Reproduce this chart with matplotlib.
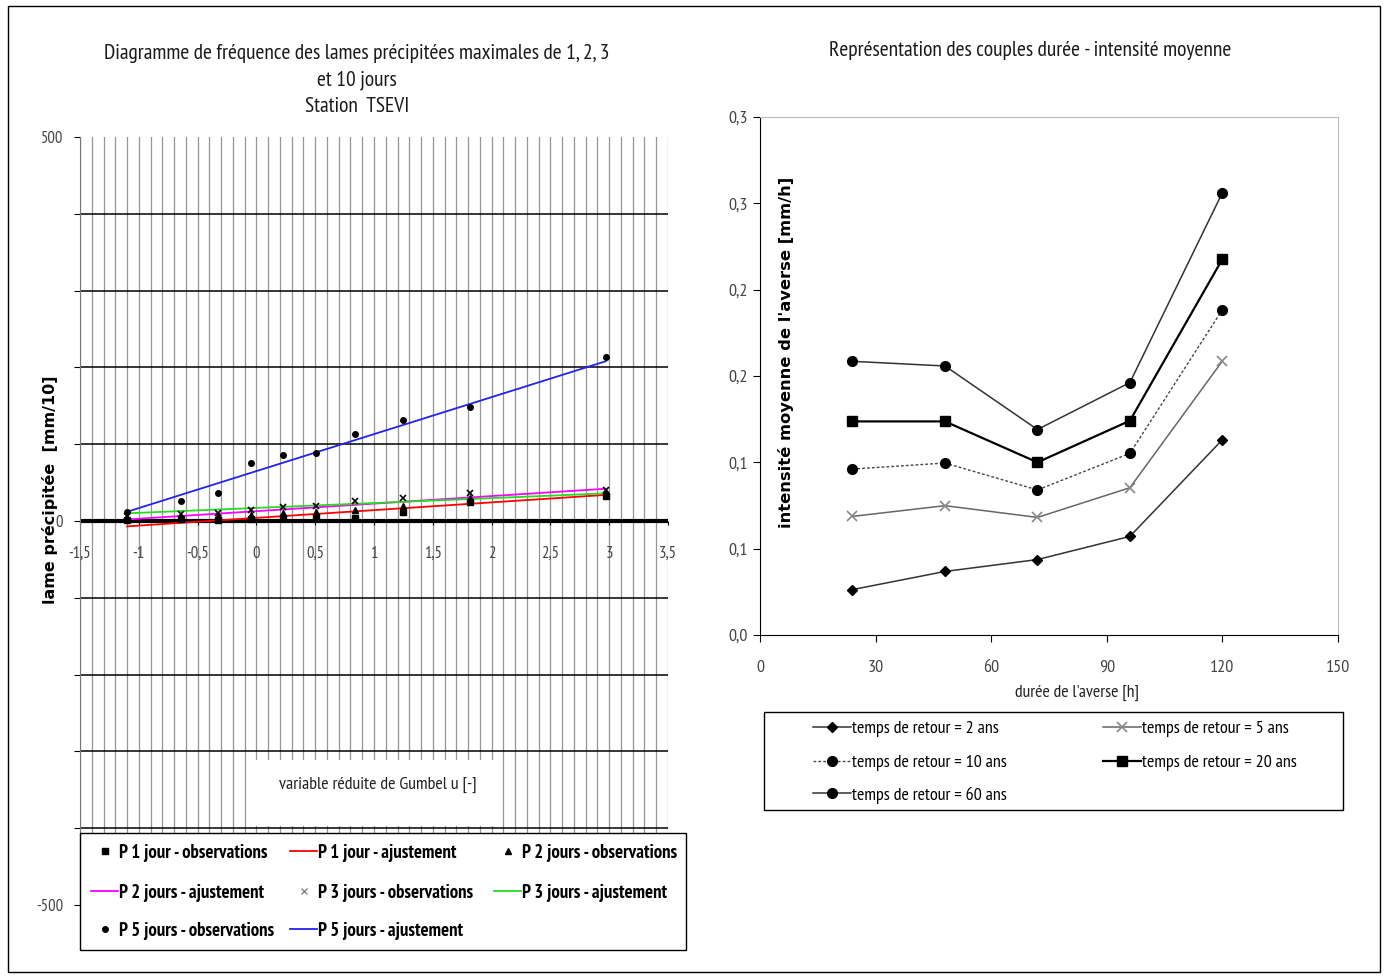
import matplotlib
matplotlib.use("Agg")
import matplotlib.pyplot as plt
from matplotlib.lines import Line2D
from matplotlib.patches import Rectangle
from matplotlib.ticker import FixedLocator, FuncFormatter

NARROW = ['PT Sans Narrow', 'Roboto Condensed', 'Liberation Sans', 'DejaVu Sans']
WIDE_BOLD = ['DejaVu Sans']
plt.rcParams['font.family'] = NARROW

# ---------------- data: left chart ----------------
u_obs = [-1.10, -0.64, -0.33, -0.05, 0.23, 0.51, 0.84, 1.25, 1.82, 2.97]
p1_obs = [1, 2, 1, 2, 4, 5, 4, 12, 25, 33]
p2_obs = [4, 5, 6, 8, 10, 12, 14, 20, 30, 37]
p3_obs = [7, 9, 10, 14, 18, 20, 26, 30, 36, 41]
p5_obs = [12, 26, 36, 75, 86, 89, 113, 131, 149, 214]
u_fit = [-1.10, 2.97]
p1_fit = [-7, 34]
p2_fit = [2, 42]
p3_fit = [10, 36]
p5_fit = [12, 208]

# ---------------- data: right chart ----------------
durations = [24, 48, 72, 96, 120]
T2 = [0.0263, 0.0368, 0.0437, 0.0571, 0.1131]
T5 = [0.0687, 0.0749, 0.0681, 0.0853, 0.1587]
T10 = [0.0961, 0.0996, 0.0840, 0.1052, 0.1884]
T20 = [0.1237, 0.1237, 0.1000, 0.1241, 0.2177]
T60 = [0.1585, 0.1558, 0.1190, 0.1462, 0.2562]

W, H = 1387, 980
fig = plt.figure(figsize=(W / 100, H / 100), dpi=100)

def fx(px):
    return px / W

def fy(py):
    return 1 - py / H

def entry(handle, label, x_px, y_px, size, weight='normal', hl=1.4, pad=0.1):
    lg = fig.legend([handle], [label], loc='center left',
                    bbox_to_anchor=(fx(x_px), fy(y_px)), frameon=False,
                    borderpad=0, borderaxespad=0, handlelength=hl, handletextpad=pad,
                    prop={'family': NARROW, 'size': size, 'weight': weight})
    lg.set_zorder(12)
    return lg

# outer frame
fig.patches.append(Rectangle((fx(8), fy(972)), fx(1372), 966 / H, transform=fig.transFigure,
                             fill=False, edgecolor='black', linewidth=1.0))

# ================= LEFT CHART =================
axL = fig.add_axes([fx(80), fy(905), fx(588), 768 / H])
axL.set_xlim(-1.5, 3.5)
axL.set_ylim(-500, 500)

for i in range(-15, 36):
    axL.axvline(i / 10, color='#959595', lw=0.9, zorder=1)
for v in range(-400, 500, 100):
    axL.axhline(v, color='black', lw=1.1, zorder=1.5)
axL.axhline(0, color='black', lw=3.0, zorder=2)

axL.plot(u_fit, p1_fit, color='red', lw=1.3, zorder=3)
axL.plot(u_fit, p2_fit, color='magenta', lw=1.3, zorder=3)
axL.plot(u_fit, p3_fit, color='#22dd22', lw=1.3, zorder=3)
axL.plot(u_fit, p5_fit, color='#2222ee', lw=1.3, zorder=3)
axL.plot(u_obs, p1_obs, 's', color='black', ms=4, zorder=4)
axL.plot(u_obs, p2_obs, '^', color='black', ms=4, zorder=4)
axL.plot(u_obs, p3_obs, 'x', color='black', ms=4, mew=1.2, zorder=4)
axL.plot(u_obs, p5_obs, 'o', color='black', ms=4, zorder=4)

for s in ['top', 'right']:
    axL.spines[s].set_visible(False)
axL.spines['left'].set_color('#777777')
axL.spines['bottom'].set_position(('data', 0))
axL.spines['bottom'].set_visible(False)

axL.yaxis.set_major_locator(FixedLocator(list(range(-500, 501, 100))))
axL.yaxis.set_major_formatter(FuncFormatter(lambda v, p: f"{int(v)}" if v in (-500, 0, 500) else ""))
axL.xaxis.set_major_locator(FixedLocator([-1.5, -1, -0.5, 0, 0.5, 1, 1.5, 2, 2.5, 3, 3.5]))
axL.xaxis.set_major_formatter(FuncFormatter(lambda v, p: (f"{v:g}").replace('.', ',')))
axL.tick_params(axis='y', length=4, labelsize=12, labelcolor='#444444', pad=8)
axL.tick_params(axis='x', length=3, labelsize=12, labelcolor='#444444', pad=15)

fig.text(0.036, 0.5, "lame précipitée  [mm/10]", rotation=90,
         ha='center', va='center', fontsize=11.5, fontweight='bold', family=WIDE_BOLD)

# x-label white box
fig.patches.append(Rectangle((fx(255), fy(826)), fx(240), 66 / H, transform=fig.transFigure,
                             facecolor='white', edgecolor='none', zorder=5))
fig.text(fx(378), fy(785), "variable réduite de Gumbel u [-]", ha='center', va='center',
         fontsize=13, zorder=6, color='#222222')

fig.text(fx(357), fy(80), "Diagramme de fréquence des lames précipitées maximales de 1, 2, 3\n"
         "et 10 jours\nStation  TSEVI", ha='center', va='center', fontsize=15.5,
         linespacing=1.5, color='#1a1a1a')

# left legend (frame + entries laid out row by row)
fig.patches.append(Rectangle((fx(80), fy(950)), fx(606), 117 / H, transform=fig.transFigure,
                             facecolor='white', edgecolor='black', linewidth=1.0, zorder=8))
h_p1o = Line2D([], [], ls='none', marker='s', color='black', ms=4)
h_p2o = Line2D([], [], ls='none', marker='^', color='black', ms=4)
h_p3o = Line2D([], [], ls='none', marker='x', color='#888888', ms=4)
h_p5o = Line2D([], [], ls='none', marker='o', color='black', ms=4)
h_p1f = Line2D([], [], color='red', lw=1.3)
h_p2f = Line2D([], [], color='magenta', lw=1.3)
h_p3f = Line2D([], [], color='#22dd22', lw=1.3)
h_p5f = Line2D([], [], color='#2222ee', lw=1.3)
rowsL = [853, 893, 931]
colsL = [91, 290, 494]
left_entries = [
    (h_p1o, "P 1 jour - observations", 0, 0),
    (h_p1f, "P 1 jour - ajustement", 1, 0),
    (h_p2o, "P 2 jours - observations", 2, 0),
    (h_p2f, "P 2 jours - ajustement", 0, 1),
    (h_p3o, "P 3 jours - observations", 1, 1),
    (h_p3f, "P 3 jours - ajustement", 2, 1),
    (h_p5o, "P 5 jours - observations", 0, 2),
    (h_p5f, "P 5 jours - ajustement", 1, 2),
]
for h, lab, c, r in left_entries:
    entry(h, lab, colsL[c], rowsL[r], 13.5, weight='bold', hl=1.45, pad=0.05)

# ================= RIGHT CHART =================
axR = fig.add_axes([fx(760), fy(635), fx(578), 518 / H])
axR.set_xlim(0, 150)
axR.set_ylim(0, 0.30)
st2 = dict(color='#333333', lw=1.1, marker='D', ms=5, mfc='black', mec='black')
st5 = dict(color='#666666', lw=1.1, marker='x', ms=7, mec='#888888', mew=1.2)
st10 = dict(color='#444444', lw=1.0, ls=(0, (2, 1.5)), marker='o', ms=7, mfc='black', mec='black')
st20 = dict(color='black', lw=1.6, marker='s', ms=7, mfc='black', mec='black')
st60 = dict(color='#333333', lw=1.1, marker='o', ms=7, mfc='black', mec='black')
axR.plot(durations, T2, **st2)
axR.plot(durations, T5, **st5)
axR.plot(durations, T10, **st10)
axR.plot(durations, T20, **st20)
axR.plot(durations, T60, **st60)

axR.set_xticks([0, 30, 60, 90, 120, 150])
axR.set_yticks([0, 0.05, 0.10, 0.15, 0.20, 0.25, 0.30])
ylab_map = {0: "0,0", 1: "0,1", 2: "0,1", 3: "0,2", 4: "0,2", 5: "0,3", 6: "0,3"}
axR.yaxis.set_major_formatter(FuncFormatter(lambda v, p: ylab_map.get(int(round(v / 0.05)), "")))
axR.tick_params(length=5, labelsize=13, labelcolor='#444444')
axR.tick_params(axis='x', pad=13)
axR.spines['top'].set_color('#bbbbbb')
axR.spines['right'].set_color('#bbbbbb')
axR.spines['left'].set_color('black')
axR.spines['bottom'].set_color('black')
axR.text(0.045, 0.546, "intensité moyenne de l'averse [mm/h]", transform=axR.transAxes,
         rotation=90, ha='center', va='center', fontsize=11.8, fontweight='bold',
         family=WIDE_BOLD)
fig.text(fx(1077), fy(693), "durée de l'averse [h]", ha='center', va='center', fontsize=12.8,
         color='#222222')
fig.text(fx(1030), fy(50), "Représentation des couples durée - intensité moyenne", ha='center',
         va='center', fontsize=15.5, color='#1a1a1a')

# right legend
fig.patches.append(Rectangle((fx(764), fy(810)), fx(579), 98 / H, transform=fig.transFigure,
                             facecolor='white', edgecolor='black', linewidth=1.0, zorder=8))
r2 = Line2D([], [], **st2)
r5 = Line2D([], [], **st5)
r10 = Line2D([], [], **st10)
r20 = Line2D([], [], **st20)
r60 = Line2D([], [], **st60)
rowsR = [729, 763, 795]
colsR = [813, 1103]
right_entries = [
    (r2, "temps de retour = 2 ans", 0, 0),
    (r5, "temps de retour = 5 ans", 1, 0),
    (r10, "temps de retour = 10 ans", 0, 1),
    (r20, "temps de retour = 20 ans", 1, 1),
    (r60, "temps de retour = 60 ans", 0, 2),
]
for h, lab, c, r in right_entries:
    entry(h, lab, colsR[c], rowsR[r], 13, hl=2.1, pad=0.05)

fig.savefig("out.png", dpi=100)
